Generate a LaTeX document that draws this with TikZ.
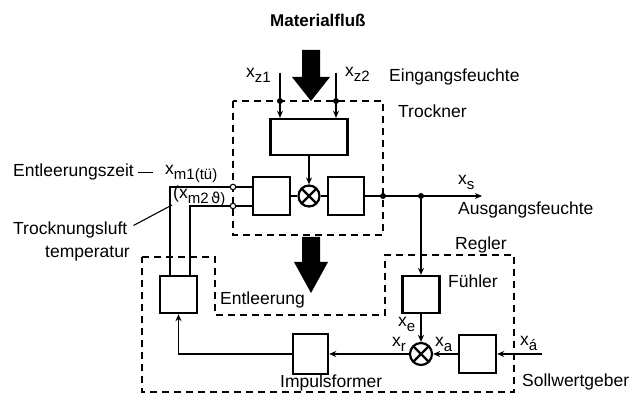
\documentclass[tikz,border=0pt]{standalone}
\usepackage{fontspec}
\setmainfont{Liberation Sans}
\newfontfamily\symfont{DejaVu Sans}
\usetikzlibrary{arrows.meta,positioning,calc}

% x with lowered index, as on the drawing
\newcommand\sx[1]{x\raisebox{-4.5pt}{\fontsize{15}{16}\selectfont#1}}

\begin{document}
\begin{tikzpicture}[x=1pt,y=-1pt,
  blk/.style={draw,line width=2.4pt,inner sep=0,minimum width=37pt,minimum height=37pt},
  mix/.style={circle,draw,line width=2.2pt,inner sep=0,minimum size=21pt,
    path picture={\draw[line width=2.2pt] (path picture bounding box.south west)--(path picture bounding box.north east)
      (path picture bounding box.north west)--(path picture bounding box.south east);}},
  sig/.style={line width=1.6pt},
  ar/.style={sig,-{Stealth[length=7pt,width=6pt]}},
  frame/.style={line width=1.2pt,dash pattern=on 7pt off 5pt},
  lbl/.style={anchor=base west,inner sep=0,font=\fontsize{17.5}{20}\selectfont},
  dot/.style={circle,fill,inner sep=0,minimum size=6pt},
  tap/.style={circle,draw,fill=white,line width=1.1pt,inner sep=0,minimum size=5.5pt}]
\useasboundingbox (0,0) rectangle (641,395);

% dashed outlines
\draw[frame] (233,101) rectangle (383,235);
\draw[frame] (142,257) -- (215,257) -- (215,315) -- (385,315) -- (385,255) -- (514,255) -- (514,392) -- (142,392) -- cycle;

% material flow
\fill[shift={(311,101)}] (-9,-51) -- (9,-51) -- (9,-24) -- (19,-24) -- (0,0) -- (-19,-24) -- (-9,-24) -- cycle;
\fill[shift={(311,293)}] (-9,-56) -- (9,-56) -- (9,-31) -- (17,-31) -- (0,0) -- (-17,-31) -- (-9,-31) -- cycle;

% blocks
\node[blk,minimum width=77pt,minimum height=36pt] (mod) at (309,137) {};
\node[blk,minimum height=38pt] (vor) at (271.5,196) {};
\node[mix] (mx1) at (309,196) {};
\node[blk,minimum width=36pt,minimum height=38pt] (aus) at (346,196) {};
\node[blk] (akt) at (178.5,294.5) {};
\node[blk] (fue) at (421,294.5) {};
\node[mix,minimum size=22pt] (mx2) at (421,354) {};
\node[blk,minimum height=38pt] (sw) at (477.5,354) {};
\node[blk,minimum width=35pt,minimum height=40pt] (imp) at (310.5,354) {};

\coordinate (z1) at (280,73);
\coordinate (z2) at (336,73);
\coordinate (xs) at (482,196);
\coordinate (xsoll) at (542,354);
\coordinate (a1) at ([xshift=-8.5pt]akt.north);
\coordinate (a2) at ([xshift=11.5pt]akt.north);

% signals
\draw[ar] (z1) -- (mod.north -| z1);
\draw[ar] (z2) -- (mod.north -| z2);
\draw[ar] (mod) -- (mx1);
\draw[sig] (vor) -- (mx1) -- (aus);
\draw[ar] (aus) -- (xs);
\node[dot] (d1) at (280,101) {};
\node[dot] (d2) at (336,101) {};
\node[dot] (d3) at (383,196) {};
\node[dot] (d4) at (421,196) {};
\node[tap] (t1) at (233,187) {};
\node[tap] (t2) at (233,206) {};
\draw[sig] (t1) -- (t1 -| vor.west);
\draw[sig] (t2) -- (t2 -| vor.west);
\draw[sig] (t1) -| (a1);
\draw[sig] (t2) -| (a2);
\draw[ar] (d4) -- (fue);
\draw[ar] (fue) -- (mx2);
\draw[ar] (xsoll) -- (sw);
\draw[ar] (sw) -- (mx2);
\draw[ar] (mx2) -- (imp);
\draw[ar] (imp) -| (akt);

% labels
\node[lbl,font=\bfseries\fontsize{17}{20}\selectfont] (mf) at (270,27) {Materialfluß};
\node[lbl] (lz1) at (246,78) {\sx{z1}};
\node[lbl] (lz2) at (345,77) {\sx{z2}};
\node[lbl] (ein) at (389,82) {Eingangsfeuchte};
\node[lbl] (tro) at (398,118) {Trockner};
\node[lbl] (ez) at (13,177) {Entleerungszeit};
\node[lbl] (lm1) at (165,175) {\sx{m1(tü)}};
\draw[line width=1.1pt] ([xshift=4pt]ez.east) -- ++(15,0);
\node[lbl] (lm2) at (173,199) {(\sx{m2\,{\symfont ϑ})}};
\node[lbl] (tl) at (13,235) {Trocknungsluft};
\node[lbl] (tt) at (45,258) {temperatur};
\coordinate (m2tip) at (172,205);
\draw[line width=1.1pt] ([shift={(6,-5)}]tl.east) -- (m2tip);
\node[lbl] (ent) at (220,305) {Entleerung};
\node[lbl] (reg) at (455,250) {Regler};
\node[lbl] (lfue) at (448,288) {Fühler};
\node[lbl] (lxs) at (458,185) {\sx{s}};
\node[lbl] (ausf) at (458,215) {Ausgangsfeuchte};
\node[lbl] (lxe) at (398,327) {\sx{e}};
\node[lbl] (lxr) at (392,347) {\sx{r}};
\node[lbl] (lxa) at (435,347) {\sx{a}};
\node[lbl] (lxw) at (520,346) {\sx{á}};
\node[lbl] (swg) at (522,387) {Sollwertgeber};
\node[lbl] (limp) at (280,388) {Impulsformer};
\end{tikzpicture}
\end{document}
